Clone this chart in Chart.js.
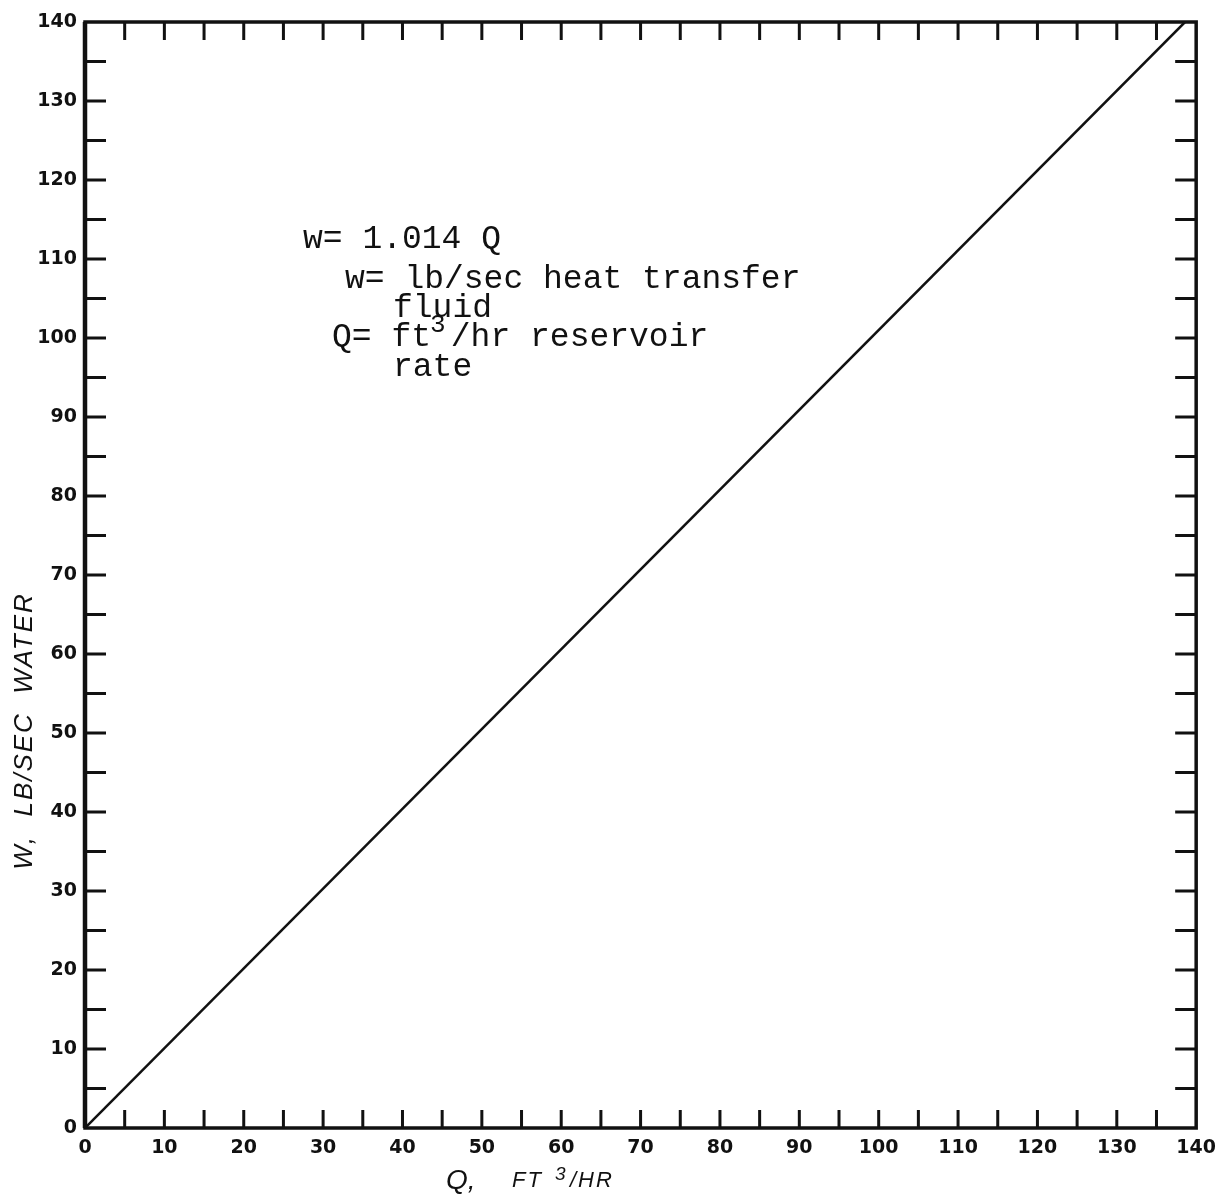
<!DOCTYPE html>
<html>
<head>
<meta charset="utf-8">
<script src="https://cdn.jsdelivr.net/npm/chart.js@4.4.1/dist/chart.umd.min.js"></script>
<style>
  html, body { margin: 0; padding: 0; background: #fff; }
  #wrap { width: 1225px; height: 1201px; position: relative; }
</style>
</head>
<body>
<div id="wrap"><canvas id="chart" width="1225" height="1201"></canvas></div>
<script>
// values
const qValues = [0, 138.6];      // Q, ft3/hr
const wValues = [0, 140];        // W, lb/sec water
const minorTicks = [5, 10, 15, 20, 25, 30, 35, 40, 45, 50, 55, 60, 65, 70, 75, 80, 85, 90, 95, 100, 105, 110, 115, 120, 125, 130, 135];
const axisMin = 0;
const axisMax = 140;
const axisStep = 10;
const noteLines = [
    { text: 'w= 1.014 Q', x: 303, y: 248 },
    { text: 'w= lb/sec heat transfer', x: 345, y: 288 },
    { text: 'fluid', x: 393, y: 317 },
    { text: 'Q= ft /hr reservoir', x: 332, y: 346 },
    { text: 'rate', x: 393, y: 376 }
];

const INK = '#111';
const MONO = '"Liberation Mono", "DejaVu Sans Mono", monospace';
const SANS = '"Liberation Sans", Arial, sans-serif';
const TICKFONT = { family: '"DejaVu Sans", sans-serif', size: 19, weight: 'bold' };

// frame, inward ticks, annotation and axis titles
const paperPlugin = {
    id: 'paper',
    afterDraw(chart) {
        const ctx = chart.ctx;
        const a = chart.chartArea;
        const xs = chart.scales.x, ys = chart.scales.y;
        const tl = 21;
        ctx.save();
        ctx.strokeStyle = INK;
        ctx.lineWidth = 3.5;
        ctx.strokeRect(a.left, a.top, a.right - a.left, a.bottom - a.top);
        ctx.lineWidth = 4.5;
        ctx.beginPath();
        ctx.moveTo(a.left, a.top); ctx.lineTo(a.left, a.bottom);
        ctx.stroke();

        ctx.lineWidth = 3;
        ctx.beginPath();
        minorTicks.forEach(v => {
            const px = xs.getPixelForValue(v);
            ctx.moveTo(px, a.bottom); ctx.lineTo(px, a.bottom - tl + 3);
            ctx.moveTo(px, a.top); ctx.lineTo(px, a.top + tl - 3);
            const py = ys.getPixelForValue(v);
            ctx.moveTo(a.left, py); ctx.lineTo(a.left + tl, py);
            ctx.moveTo(a.right, py); ctx.lineTo(a.right - tl, py);
        });
        ctx.stroke();

        // typed note
        ctx.fillStyle = INK;
        ctx.font = '33px ' + MONO;
        ctx.textBaseline = 'alphabetic';
        ctx.textAlign = 'left';
        noteLines.forEach(l => ctx.fillText(l.text, l.x, l.y));
        // superscript 3 after "ft"
        const q = noteLines[3];
        const ftW = ctx.measureText('Q= ft').width;
        ctx.font = '26px ' + MONO;
        ctx.fillText('3', q.x + ftW - 1, q.y - 14);

        // x title
        ctx.font = 'italic 28px ' + SANS;
        ctx.fillText('Q,', 446, 1189);
        ctx.letterSpacing = '2px';
        ctx.font = 'italic 22px ' + SANS;
        ctx.fillText('FT', 512, 1187);
        ctx.font = 'italic 19px ' + SANS;
        ctx.fillText('3', 555, 1180);
        ctx.font = 'italic 22px ' + SANS;
        ctx.fillText('/HR', 570, 1187);

        // y title
        ctx.translate(32, 731);
        ctx.rotate(-Math.PI / 2);
        ctx.textAlign = 'center';
        ctx.letterSpacing = '2px';
        ctx.font = 'italic 26px ' + SANS;
        ctx.fillText('W,  LB/SEC  WATER', 0, 0);
        ctx.restore();
    }
};

new Chart(document.getElementById('chart'), {
    type: 'line',
    data: {
        datasets: [{
            data: qValues.map((q, i) => ({ x: q, y: wValues[i] })),
            borderColor: INK,
            borderWidth: 2.5,
            pointRadius: 0,
            fill: false,
            tension: 0
        }]
    },
    options: {
        responsive: false,
        animation: false,
        events: [],
        layout: { padding: { top: 22, right: 18, left: 0, bottom: 0 } },
        plugins: {
            legend: { display: false },
            tooltip: { enabled: false }
        },
        scales: {
            x: {
                type: 'linear',
                min: axisMin, max: axisMax,
                grid: { display: false, drawTicks: false },
                border: { display: false },
                ticks: {
                    stepSize: axisStep,
                    padding: 9,
                    maxRotation: 0,
                    color: INK,
                    font: TICKFONT
                },
                afterFit: s => { s.height = 73; }
            },
            y: {
                type: 'linear',
                min: axisMin, max: axisMax,
                grid: { display: false, drawTicks: false },
                border: { display: false },
                ticks: {
                    stepSize: axisStep,
                    padding: 8,
                    color: INK,
                    font: TICKFONT
                },
                afterFit: s => { s.width = 85; }
            }
        }
    },
    plugins: [paperPlugin]
});
</script>
</body>
</html>
